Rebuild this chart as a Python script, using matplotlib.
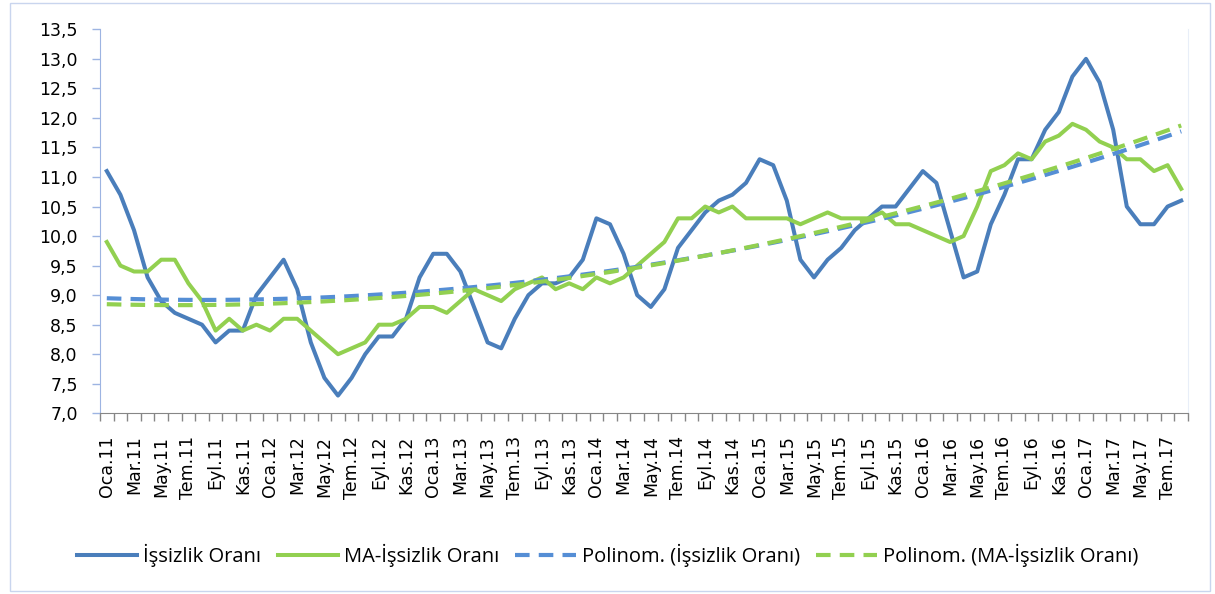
import numpy as np
import matplotlib
matplotlib.use("Agg")
import matplotlib.pyplot as plt
from matplotlib.patches import Rectangle

# monthly labels (Turkish abbreviations), Oca.11 .. Ağu.17
months = ['Oca', 'Şub', 'Mar', 'Nis', 'May', 'Haz', 'Tem', 'Ağu', 'Eyl', 'Eki', 'Kas', 'Ara']
years = ['11', '12', '13', '14', '15', '16', '17']

issizlik = [11.1, 10.7, 10.1, 9.3, 8.9, 8.7, 8.6, 8.5, 8.2, 8.4, 8.4, 9.0,
            9.3, 9.6, 9.1, 8.2, 7.6, 7.3, 7.6, 8.0, 8.3, 8.3, 8.6, 9.3,
            9.7, 9.7, 9.4, 8.8, 8.2, 8.1, 8.6, 9.0, 9.2, 9.2, 9.3, 9.6,
            10.3, 10.2, 9.7, 9.0, 8.8, 9.1, 9.8, 10.1, 10.4, 10.6, 10.7, 10.9,
            11.3, 11.2, 10.6, 9.6, 9.3, 9.6, 9.8, 10.1, 10.3, 10.5, 10.5, 10.8,
            11.1, 10.9, 10.1, 9.3, 9.4, 10.2, 10.7, 11.3, 11.3, 11.8, 12.1, 12.7,
            13.0, 12.6, 11.8, 10.5, 10.2, 10.2, 10.5, 10.6]

ma_issizlik = [9.9, 9.5, 9.4, 9.4, 9.6, 9.6, 9.2, 8.9, 8.4, 8.6, 8.4, 8.5,
               8.4, 8.6, 8.6, 8.4, 8.2, 8.0, 8.1, 8.2, 8.5, 8.5, 8.6, 8.8,
               8.8, 8.7, 8.9, 9.1, 9.0, 8.9, 9.1, 9.2, 9.3, 9.1, 9.2, 9.1,
               9.3, 9.2, 9.3, 9.5, 9.7, 9.9, 10.3, 10.3, 10.5, 10.4, 10.5, 10.3,
               10.3, 10.3, 10.3, 10.2, 10.3, 10.4, 10.3, 10.3, 10.3, 10.4, 10.2, 10.2,
               10.1, 10.0, 9.9, 10.0, 10.5, 11.1, 11.2, 11.4, 11.3, 11.6, 11.7, 11.9,
               11.8, 11.6, 11.5, 11.3, 11.3, 11.1, 11.2, 10.8]

labels = []
for y in years:
    for m in months:
        labels.append('{}.{}'.format(m, y))
labels = labels[:len(issizlik)]

x = np.arange(len(issizlik))

# polynomial (order 2) trend lines, as Excel's "Polinom." trendline
trend1 = np.polyval(np.polyfit(x + 1, issizlik, 2), x + 1)
trend2 = np.polyval(np.polyfit(x + 1, ma_issizlik, 2), x + 1)

blue = '#4a7ebb'
green = '#92d050'
blue_dash = '#558ed5'

fig = plt.figure(figsize=(12.15, 5.94), dpi=100)
ax = fig.add_axes([100 / 1215, 1 - 413.3 / 594, 1088 / 1215, 384 / 594])

ax.plot(x, issizlik, color=blue, lw=2.9, label='İşsizlik Oranı', solid_joinstyle='round')
ax.plot(x, ma_issizlik, color=green, lw=2.9, label='MA-İşsizlik Oranı', solid_joinstyle='round')
ax.plot(x, trend1, color=blue_dash, lw=3, dashes=(3.5, 2.2), label='Polinom. (İşsizlik Oranı)')
ax.plot(x, trend2, color=green, lw=3, dashes=(3.5, 2.2), label='Polinom. (MA-İşsizlik Oranı)')

ax.set_xlim(-0.5, len(x) - 0.5)
ax.set_ylim(7.0, 13.5)

yt = np.arange(7.0, 13.51, 0.5)
ax.set_yticks(yt)
ax.set_yticklabels(['{:.1f}'.format(v).replace('.', ',') for v in yt])

ax.set_xticks(x[::2])
ax.set_xticklabels(labels[::2], rotation=90)
ax.set_xticks(np.arange(-0.5, len(x)), minor=True)

ax.tick_params(axis='x', which='major', length=0, pad=16, labelsize=12.5)
ax.tick_params(axis='x', which='minor', length=6, width=1, color='#868686', direction='out')
ax.tick_params(axis='y', length=6, width=1, color='#9db4e2', pad=10, labelsize=12.5)
for lab in ax.get_xticklabels() + ax.get_yticklabels():
    lab.set_family('DejaVu Sans')

ax.spines['top'].set_visible(False)
ax.spines['right'].set_color('#e8eef8')
ax.spines['left'].set_color('#9db4e2')
ax.spines['bottom'].set_color('#868686')

leg = fig.legend(loc='center', bbox_to_anchor=(0.5, 1 - 555 / 594), ncol=4, frameon=False,
                 handlelength=3.0, handletextpad=0.3, columnspacing=0.8,
                 prop={'family': 'Open Sans', 'size': 14.5})

# outer chart border
fig.patches.append(Rectangle((10 / 1215, 3 / 594), 1200 / 1215, 588 / 594,
                             transform=fig.transFigure, fill=False,
                             edgecolor='#c9d5ee', lw=1))

fig.savefig('out.png', dpi=100)
